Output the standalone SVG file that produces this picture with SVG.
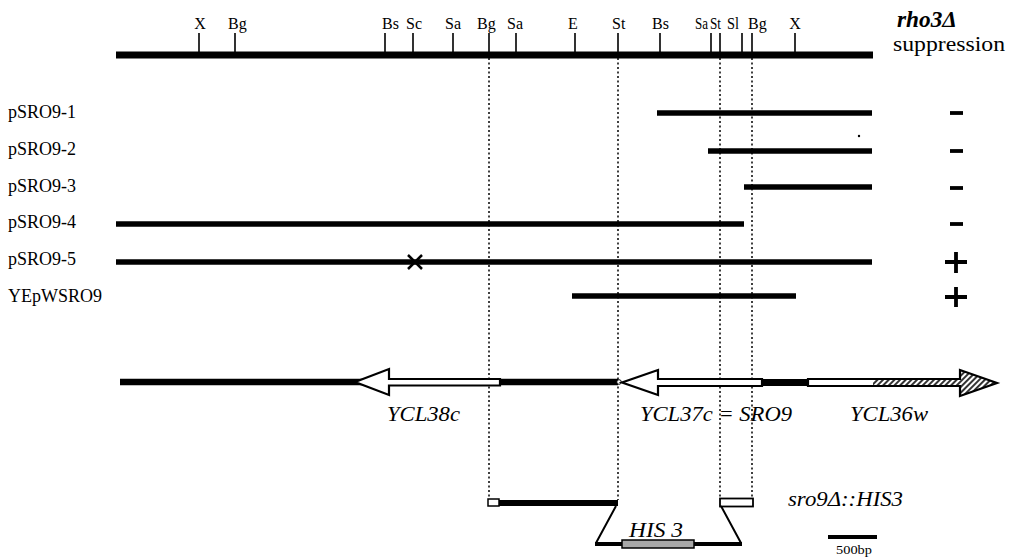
<svg xmlns="http://www.w3.org/2000/svg" width="1009" height="559" viewBox="0 0 1009 559">
<defs>
<style>
.t{font-family:"Liberation Serif","Times New Roman",serif;fill:#000}
.tick{font-size:16px}
.clone{font-size:18px}
.gene{font-size:22px;font-style:italic}
.bar{stroke:#000;fill:none;stroke-linecap:butt}
.thin{stroke:#000;stroke-width:1.6;fill:none}
.dot{stroke:#000;stroke-width:1.5;stroke-dasharray:2 2.5;fill:none}
.arrow{fill:#fff;stroke:#000;stroke-width:2.2;stroke-linejoin:miter}
.sign{stroke:#000;stroke-width:3.8;fill:none}
</style>
<pattern id="hatch" patternUnits="userSpaceOnUse" width="4" height="4" patternTransform="rotate(45)">
<rect width="4" height="4" fill="#fff"/>
<line x1="1" y1="0" x2="1" y2="4" stroke="#000" stroke-width="1.6"/>
</pattern>
</defs>
<rect width="1009" height="559" fill="#fff"/>

<g id="connectors">
<line class="dot" x1="489" y1="58" x2="489" y2="499"/>
<line class="dot" x1="618" y1="58" x2="618" y2="500"/>
<line class="dot" x1="720" y1="58" x2="720" y2="498"/>
<line class="dot" x1="752" y1="58" x2="752" y2="498"/>
</g>

<g id="restriction-map">
<line class="bar" x1="116" y1="55" x2="873" y2="55" stroke-width="7"/>
<path class="thin" d="M199,33V55M235,33V55M385,33V55M413,33V55M453,33V55M489,33V55M516,33V55M575,33V55M618,33V55M660,33V55M711,33V55M720,33V55M742,33V55M752,33V55M795,33V55"/>
<g class="t tick">
<text x="200" y="29" text-anchor="middle">X</text>
<text x="228" y="29">Bg</text>
<text x="382" y="29">Bs</text>
<text x="406" y="29">Sc</text>
<text x="445" y="29">Sa</text>
<text x="477" y="29">Bg</text>
<text x="507" y="29">Sa</text>
<text x="568" y="29">E</text>
<text x="612" y="29">St</text>
<text x="652" y="29">Bs</text>
<text x="695" y="29" textLength="13" lengthAdjust="spacingAndGlyphs">Sa</text>
<text x="710" y="29" textLength="11" lengthAdjust="spacingAndGlyphs">St</text>
<text x="727" y="29" textLength="12" lengthAdjust="spacingAndGlyphs">Sl</text>
<text x="748" y="29">Bg</text>
<text x="795" y="29" text-anchor="middle">X</text>
</g>
<text class="t" x="897" y="27" font-size="23" font-style="italic" font-weight="bold" textLength="60" lengthAdjust="spacingAndGlyphs">rho3Δ</text>
<text class="t" x="893" y="51" font-size="22" textLength="112" lengthAdjust="spacingAndGlyphs">suppression</text>
</g>

<g id="pSRO9-1">
<text class="t clone" x="8" y="118">pSRO9-1</text>
<line class="bar" x1="657" y1="113" x2="872" y2="113" stroke-width="5.5"/>
<line class="sign" x1="950" y1="113" x2="963" y2="113"/>
</g>
<circle cx="859" cy="136" r="1.2" fill="#000"/>
<g id="pSRO9-2">
<text class="t clone" x="8" y="155">pSRO9-2</text>
<line class="bar" x1="708" y1="151" x2="872" y2="151" stroke-width="5.5"/>
<line class="sign" x1="950" y1="151" x2="963" y2="151"/>
</g>
<g id="pSRO9-3">
<text class="t clone" x="8" y="192">pSRO9-3</text>
<line class="bar" x1="744" y1="187" x2="872" y2="187" stroke-width="5.5"/>
<line class="sign" x1="950" y1="188" x2="963" y2="188"/>
</g>
<g id="pSRO9-4">
<text class="t clone" x="8" y="228">pSRO9-4</text>
<line class="bar" x1="116" y1="224" x2="744" y2="224" stroke-width="5.5"/>
<line class="sign" x1="950" y1="224" x2="963" y2="224"/>
</g>
<g id="pSRO9-5">
<text class="t clone" x="8" y="265">pSRO9-5</text>
<line class="bar" x1="116" y1="262" x2="872" y2="262" stroke-width="5.5"/>
<path d="M408,255L422,269M422,255L408,269" stroke="#000" stroke-width="2.5" fill="none"/>
<path class="sign" d="M945,262H967M956,252V273"/>
</g>
<g id="YEpWSRO9">
<text class="t clone" x="8" y="302">YEpWSRO9</text>
<line class="bar" x1="572" y1="296" x2="796" y2="296" stroke-width="5.5"/>
<path class="sign" d="M945,297H967M956,287V307"/>
</g>

<g id="gene-map">
<line class="bar" x1="120" y1="382" x2="618" y2="382" stroke-width="6.5"/>
<line class="bar" x1="760" y1="382.5" x2="809" y2="382.5" stroke-width="7"/>
<circle cx="619" cy="382" r="2.3" fill="#fff" stroke="#000" stroke-width="1"/>
<g id="YCL38c">
<polygon class="arrow" points="500,379 389,379 389,369 355,382 389,395 389,385.5 500,385.5"/>
<text class="t gene" x="387" y="421" textLength="73" lengthAdjust="spacingAndGlyphs">YCL38c</text>
</g>
<g id="YCL37c">
<polygon class="arrow" points="762,379 658,379 658,370 622,382.5 658,395 658,386 762,386"/>
<text class="t gene" x="640" y="421" textLength="152" lengthAdjust="spacingAndGlyphs">YCL37c = SRO9</text>
</g>
<g id="YCL36w">
<rect x="808" y="379" width="66" height="7" fill="#fff"/>
<polygon points="873,379 960,379 960,370 997,383 960,396 960,386 873,386" fill="url(#hatch)"/>
<polygon points="808,379 960,379 960,370 997,383 960,396 960,386 808,386" fill="none" stroke="#000" stroke-width="2.2" stroke-linejoin="miter"/>
<text class="t gene" x="850" y="421" textLength="78" lengthAdjust="spacingAndGlyphs">YCL36w</text>
</g>
</g>

<g id="disruption">
<rect x="488" y="499" width="11" height="7" fill="#fff" stroke="#000" stroke-width="1.5"/>
<line class="bar" x1="499" y1="503" x2="618" y2="503" stroke-width="6"/>
<rect x="720" y="498.5" width="33" height="8" fill="#fff" stroke="#000" stroke-width="1.8"/>
<path d="M616,506L596,543M721,506L741,543" stroke="#000" stroke-width="2" fill="none"/>
<line class="bar" x1="595" y1="544" x2="742" y2="544" stroke-width="4"/>
<rect x="622" y="540" width="72" height="8" fill="#a8a8a8" stroke="#000" stroke-width="1.5"/>
<text class="t gene" x="629" y="537" textLength="54" lengthAdjust="spacingAndGlyphs">HIS 3</text>
<text class="t gene" x="788" y="506" textLength="115" lengthAdjust="spacingAndGlyphs">sro9Δ::HIS3</text>
</g>

<g id="scale-bar">
<line class="bar" x1="828" y1="537" x2="877" y2="537" stroke-width="4"/>
<text class="t" x="836" y="554" font-size="13.5" textLength="36" lengthAdjust="spacingAndGlyphs">500bp</text>
</g>
</svg>
